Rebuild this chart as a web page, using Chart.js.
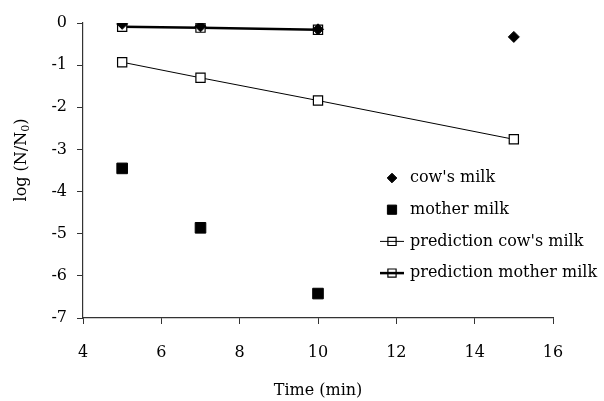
<!DOCTYPE html>
<html>
<head>
<meta charset="utf-8">
<script src="https://cdn.jsdelivr.net/npm/chart.js@4.4.0/dist/chart.umd.min.js"></script>
<style>
  body { margin: 0; background: #fff; }
  #wrap { width: 604px; height: 401px; }
</style>
</head>
<body>
<div id="wrap"><canvas id="chart" width="604" height="401"></canvas></div>
<script>
// time points (min)
const cowTimes = [5, 7, 10, 15];
const motherTimes = [5, 7, 10];
// log(N/N0) values
const cowMilk = [-0.02, -0.08, -0.15, -0.33];
const motherMilk = [-3.45, -4.86, -6.42];
const predCowMilk = [-0.93, -1.30, -1.84, -2.76];
const predMotherMilk = [-0.09, -0.11, -0.16];

const xTicks = [4, 6, 8, 10, 12, 14, 16];
const yTicks = [0, -1, -2, -3, -4, -5, -6, -7];

const FONT = "'DejaVu Serif', serif";

function pairs(xs, ys) {
  return ys.map((y, i) => ({ x: xs[i], y: y }));
}

// legend drawn inside the plot, like the original
const legendPlugin = {
  id: "innerLegend",
  afterDraw(chart) {
    const ctx = chart.ctx;
    ctx.save();
    chart.data.datasets.forEach((ds, i) => {
      const y = 178 + i * 31.7;
      const x = 392;
      if (ds.showLine) {
        ctx.strokeStyle = "#000";
        ctx.lineWidth = ds.borderWidth;
        ctx.beginPath();
        ctx.moveTo(x - 12, y);
        ctx.lineTo(x + 12, y);
        ctx.stroke();
      }
      // hollow markers stay see-through in the legend
      ctx.fillStyle = ds.showLine ? "rgba(0,0,0,0)" : ds.pointBackgroundColor;
      ctx.strokeStyle = "#000";
      ctx.lineWidth = ds.pointBorderWidth;
      Chart.helpers.drawPoint(ctx, {
        pointStyle: ds.pointStyle,
        radius: ds.legendRadius,
        borderWidth: ds.pointBorderWidth,
        rotation: 0
      }, x, y);
      ctx.fillStyle = "#000";
      ctx.font = "16px " + FONT;
      ctx.textAlign = "left";
      ctx.textBaseline = "middle";
      ctx.fillText(ds.label, 410, y);
    });

    // y axis title with subscript
    ctx.translate(22, 160);
    ctx.rotate(-Math.PI / 2);
    ctx.textBaseline = "middle";
    const a = "log (N/N";
    const b = "0";
    const c = ")";
    ctx.font = "16px " + FONT;
    const wa = ctx.measureText(a).width;
    const wc = ctx.measureText(c).width;
    ctx.font = "11px " + FONT;
    const wb = ctx.measureText(b).width;
    let sx = -(wa + wb + wc) / 2;
    ctx.font = "16px " + FONT;
    ctx.textAlign = "left";
    ctx.fillText(a, sx, 0);
    ctx.font = "11px " + FONT;
    ctx.fillText(b, sx + wa, 4);
    ctx.font = "16px " + FONT;
    ctx.fillText(c, sx + wa + wb, 0);
    ctx.restore();
  }
};

new Chart(document.getElementById("chart"), {
  type: "scatter",
  data: {
    datasets: [
      {
        label: "cow's milk",
        data: pairs(cowTimes, cowMilk),
        showLine: false,
        pointStyle: "rectRot",
        pointRadius: 5.5,
        legendRadius: 4.8,
        pointBackgroundColor: "#000",
        pointBorderColor: "#000",
        pointBorderWidth: 1
      },
      {
        label: "mother milk",
        data: pairs(motherTimes, motherMilk),
        showLine: false,
        pointStyle: "rect",
        pointRadius: 7.5,
        legendRadius: 6.5,
        pointBackgroundColor: "#000",
        pointBorderColor: "#000",
        pointBorderWidth: 1
      },
      {
        label: "prediction cow's milk",
        data: pairs(cowTimes, predCowMilk),
        showLine: true,
        borderColor: "#000",
        borderWidth: 1,
        pointStyle: "rect",
        pointRadius: 6.5,
        legendRadius: 5.8,
        pointBackgroundColor: "#fff",
        pointBorderColor: "#000",
        pointBorderWidth: 1.2
      },
      {
        label: "prediction mother milk",
        data: pairs(motherTimes, predMotherMilk),
        showLine: true,
        borderColor: "#000",
        borderWidth: 2.5,
        pointStyle: "rect",
        pointRadius: 6.5,
        legendRadius: 5.8,
        pointBackgroundColor: "#fff",
        pointBorderColor: "#000",
        pointBorderWidth: 1.2
      }
    ]
  },
  options: {
    responsive: false,
    animation: false,
    layout: { padding: { top: 23, right: 51, bottom: 0, left: 0 } },
    plugins: {
      legend: { display: false },
      tooltip: { enabled: false }
    },
    scales: {
      x: {
        type: "linear",
        min: 4,
        max: 16,
        afterBuildTicks: (scale) => { scale.ticks = xTicks.map((v) => ({ value: v })); },
        afterFit: (scale) => { scale.height = 83; },
        grid: { drawOnChartArea: false, drawTicks: true, tickLength: 6, tickColor: "#333" },
        border: { display: true, color: "#333", width: 1.2 },
        ticks: { color: "#000", padding: 19, font: { family: FONT, size: 16 }, maxRotation: 0 },
        title: {
          display: true,
          text: "Time (min)",
          color: "#000",
          font: { family: FONT, size: 16 },
          padding: { top: 0, bottom: 1 }
        }
      },
      y: {
        type: "linear",
        min: -7,
        max: 0,
        afterBuildTicks: (scale) => { scale.ticks = yTicks.map((v) => ({ value: v })); },
        afterFit: (scale) => { scale.width = 83; },
        grid: { drawOnChartArea: false, drawTicks: true, tickLength: 6, tickColor: "#333" },
        border: { display: true, color: "#333", width: 1.2 },
        ticks: { color: "#000", padding: 10, font: { family: FONT, size: 16 } }
      }
    }
  },
  plugins: [legendPlugin]
});
</script>
</body>
</html>
